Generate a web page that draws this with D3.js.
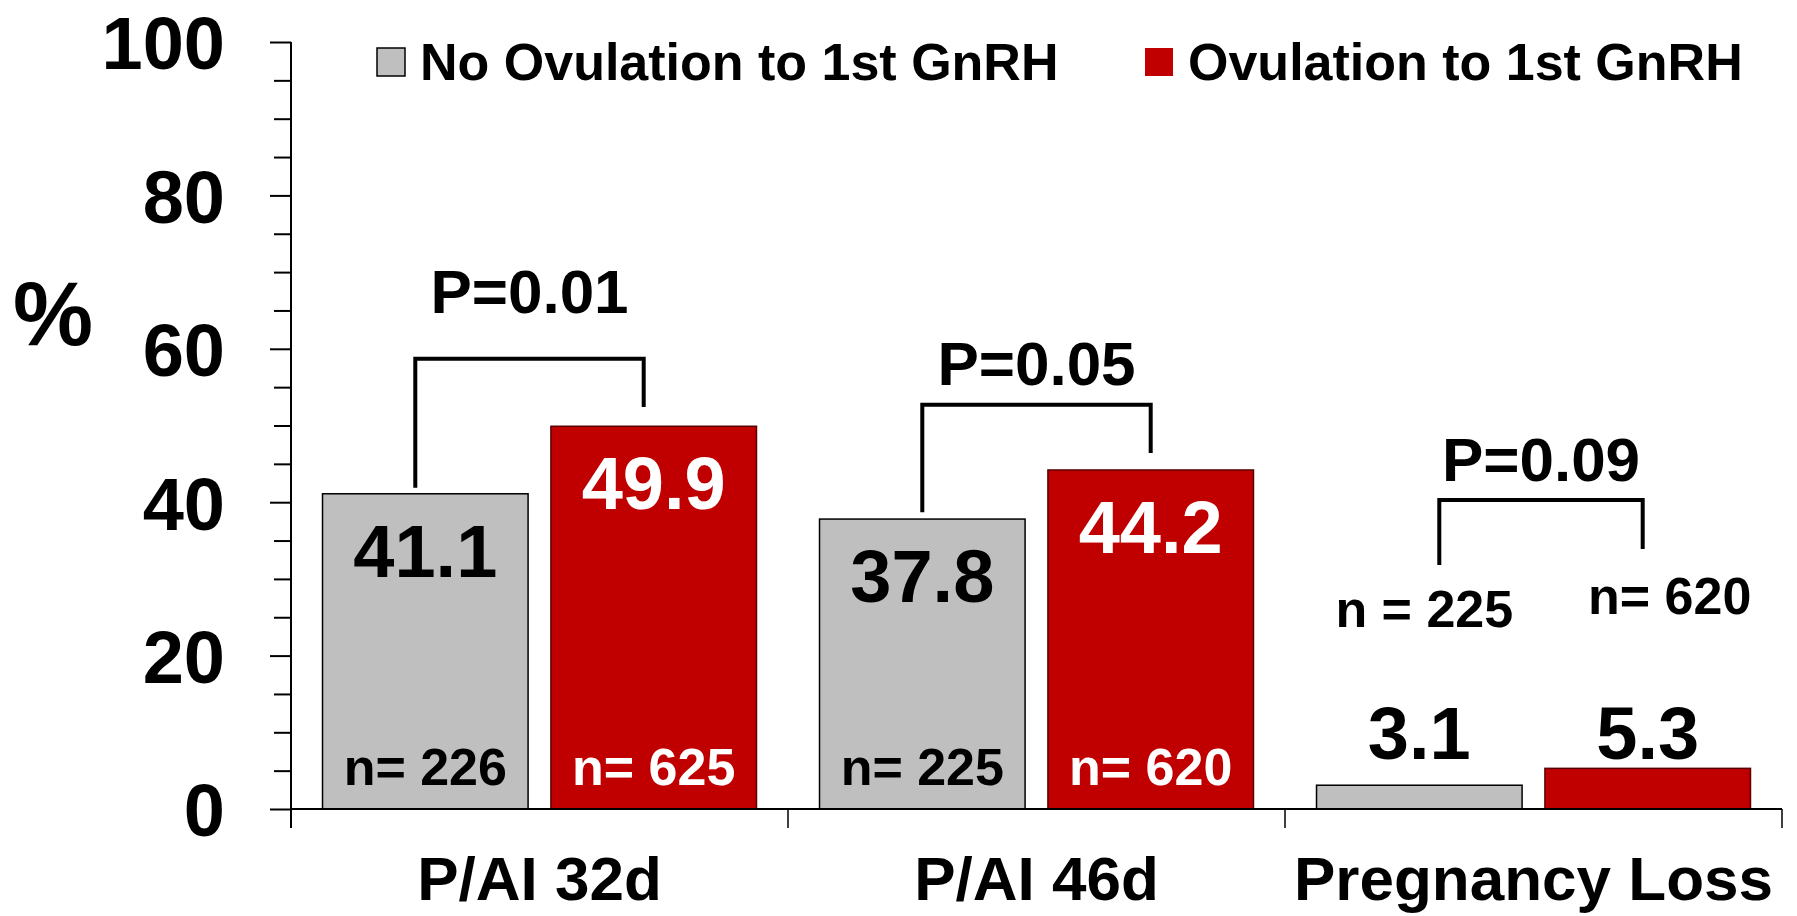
<!DOCTYPE html>
<html>
<head>
<meta charset="utf-8">
<script src="https://cdn.jsdelivr.net/npm/d3@7"></script>
<style>
  body { margin: 0; background: #fff; }
  text { font-family: Arial, "Liberation Sans", sans-serif; font-weight: bold; }
</style>
</head>
<body>
<script>
const width = 1797;
const height = 916;

// data
const categories = ["P/AI 32d", "P/AI 46d", "Pregnancy Loss"];
const seriesNames = ["No Ovulation to 1st GnRH", "Ovulation to 1st GnRH"];
const noOvulation = [41.1, 37.8, 3.1];
const ovulation = [49.9, 44.2, 5.3];
const nNoOvulation = ["n= 226", "n= 225", "n = 225"];
const nOvulation = ["n= 625", "n= 620", "n= 620"];
const pLabels = ["P=0.01", "P=0.05", "P=0.09"];
const yTickLabels = [0, 20, 40, 60, 80, 100];

// bracket heights in % units (top, left leg end, right leg end, label)
const bracketTop = [58.7, 52.7, 40.3];
const bracketLeft = [41.9, 38.7, 31.8];
const bracketRight = [52.4, 46.4, 33.9];
const pLabelAt = [64.7, 55.3, 42.8];

const colors = ["#BFBFBF", "#C00000"];

const margin = { left: 291, right: 15, top: 42, bottom: 107 };

const svg = d3.select("body")
  .append("svg")
  .attr("width", width)
  .attr("height", height);

const x0 = d3.scaleBand()
  .domain(categories)
  .range([margin.left, width - margin.right])
  .padding(0);

const x1 = d3.scaleBand()
  .domain([0, 1])
  .range([0, x0.bandwidth()])
  .paddingInner(0.1)
  .paddingOuter(0.138);

const y = d3.scaleLinear()
  .domain([0, 100])
  .range([height - margin.bottom, margin.top]);

const rows = categories.map((c, i) => ({
  cat: c,
  vals: [noOvulation[i], ovulation[i]],
  ns: [nNoOvulation[i], nOvulation[i]]
}));

// bars
const g = svg.selectAll("g.grp")
  .data(rows)
  .enter()
  .append("g")
  .attr("class", "grp")
  .attr("transform", d => "translate(" + x0(d.cat) + ",0)");

g.selectAll("rect")
  .data(d => d.vals.map((v, k) => ({ v: v, k: k })))
  .enter()
  .append("rect")
  .attr("x", d => x1(d.k))
  .attr("y", d => y(d.v))
  .attr("width", x1.bandwidth())
  .attr("height", d => y(0) - y(d.v))
  .attr("fill", d => colors[d.k])
  .attr("stroke", d => d.k == 0 ? "#000" : "#5a0000")
  .attr("stroke-width", 1.5);

// value labels
g.selectAll("text.val")
  .data(d => d.vals.map((v, k) => ({ v: v, k: k })))
  .enter()
  .append("text")
  .attr("class", "val")
  .attr("x", d => x1(d.k) + x1.bandwidth() / 2)
  .attr("y", d => d.v < 10 ? y(0) - 50 : y(d.v) + 83)
  .attr("text-anchor", "middle")
  .attr("font-size", 74)
  .attr("fill", d => (d.k == 1 && d.v >= 10) ? "#fff" : "#000")
  .text(d => d.v.toFixed(1));

// n labels
g.selectAll("text.n")
  .data((d, i) => d.ns.map((s, k) => ({ s: s, k: k, v: d.vals[k] })))
  .enter()
  .append("text")
  .attr("class", "n")
  .attr("x", d => x1(d.k) + x1.bandwidth() / 2 + (d.v < 10 ? (d.k == 0 ? 5 : 22) : 0))
  .attr("y", d => d.v < 10 ? y(d.k == 0 ? 23.7 : 25.4) : y(0) - 24)
  .attr("text-anchor", "middle")
  .attr("font-size", 52)
  .attr("fill", d => (d.k == 1 && d.v >= 10) ? "#fff" : "#000")
  .text(d => d.s);

// brackets
const legShift = [[-10, -10], [0, 0], [20, -5]];
categories.forEach((c, i) => {
  const xa = x0(c) + x1(0) + x1.bandwidth() / 2 + legShift[i][0];
  const xb = x0(c) + x1(1) + x1.bandwidth() / 2 + legShift[i][1];
  svg.append("path")
    .attr("d", "M" + xa + "," + y(bracketLeft[i]) + "V" + y(bracketTop[i]) + "H" + xb + "V" + y(bracketRight[i]))
    .attr("fill", "none")
    .attr("stroke", "#000")
    .attr("stroke-width", 4);
  svg.append("text")
    .attr("x", (xa + xb) / 2)
    .attr("y", y(pLabelAt[i]))
    .attr("text-anchor", "middle")
    .attr("font-size", 62)
    .text(pLabels[i]);
});

// y axis
const yAxis = svg.append("g")
  .attr("transform", "translate(" + margin.left + ",0)")
  .call(d3.axisLeft(y).tickValues(d3.range(0, 101, 5)).tickSize(17).tickFormat(""));
yAxis.select(".domain").remove();
yAxis.selectAll(".tick line")
  .attr("stroke", "#000")
  .attr("stroke-width", 2)
  .attr("x2", d => d % 20 == 0 ? -21 : -17);
svg.append("line")
  .attr("x1", margin.left).attr("x2", margin.left)
  .attr("y1", y(100)).attr("y2", y(0) + 19)
  .attr("stroke", "#000").attr("stroke-width", 2);

svg.selectAll("text.ytick")
  .data(yTickLabels)
  .enter()
  .append("text")
  .attr("class", "ytick")
  .attr("x", margin.left - 66)
  .attr("y", d => y(d))
  .attr("dy", "0.37em")
  .attr("text-anchor", "end")
  .attr("font-size", 74)
  .text(d => d);

svg.append("text")
  .attr("x", 53)
  .attr("y", 345)
  .attr("text-anchor", "middle")
  .attr("font-size", 90)
  .text("%");

// x axis
svg.append("line")
  .attr("x1", margin.left).attr("x2", width - margin.right)
  .attr("y1", y(0)).attr("y2", y(0))
  .attr("stroke", "#000").attr("stroke-width", 2);

const bounds = categories.map(c => x0(c)).concat([x0(categories[2]) + x0.bandwidth()]);
svg.selectAll("line.xtick")
  .data(bounds.slice(1))
  .enter()
  .append("line")
  .attr("class", "xtick")
  .attr("x1", d => d).attr("x2", d => d)
  .attr("y1", y(0)).attr("y2", y(0) + 19)
  .attr("stroke", "#000").attr("stroke-width", 1.5);

svg.selectAll("text.cat")
  .data(categories)
  .enter()
  .append("text")
  .attr("class", "cat")
  .attr("x", d => x0(d) + x0.bandwidth() / 2)
  .attr("y", 900)
  .attr("text-anchor", "middle")
  .attr("font-size", 62)
  .text(d => d);

// legend
const legX = [377, 1145];
seriesNames.forEach((s, i) => {
  svg.append("rect")
    .attr("x", legX[i]).attr("y", 48)
    .attr("width", 28).attr("height", 28)
    .attr("fill", colors[i])
    .attr("stroke", i == 0 ? "#000" : "none")
    .attr("stroke-width", 1.5);
  svg.append("text")
    .attr("x", legX[i] + 43)
    .attr("y", 80)
    .attr("font-size", 52)
    .text(s);
});
</script>
</body>
</html>
